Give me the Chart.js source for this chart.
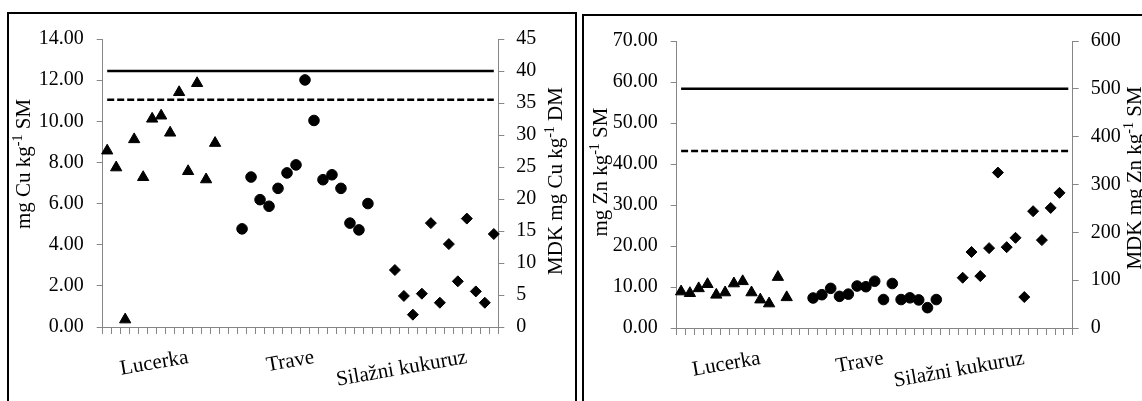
<!DOCTYPE html>
<html>
<head>
<meta charset="utf-8">
<script src="https://cdn.jsdelivr.net/npm/chart.js@4.4.0/dist/chart.umd.min.js"></script>
<style>
  html, body { margin: 0; padding: 0; background: #fff; }
  body { width: 1142px; height: 401px; position: relative; overflow: hidden; }
  .panel { position: absolute; border: 2px solid #000; background: #fff; }
  #panelCu { left: 7px; top: 12px; width: 566px; height: 400px; }
  #panelZn { left: 582px; top: 14px; width: 570px; height: 400px; }
  canvas { position: absolute; left: 0; top: 0; }
</style>
</head>
<body>
<div class="panel" id="panelCu"><canvas id="cuChart" width="566" height="387" style="width:566px;height:387px"></canvas></div>
<div class="panel" id="panelZn"><canvas id="znChart" width="558" height="385" style="width:558px;height:385px"></canvas></div>
<script>
// Kategorije (skupine uzoraka)
const groupNames = ['Lucerka', 'Trave', 'Silažni kukuruz'];
const groupStarts = [0, 15, 32];
const cuSlotCount = 44;
const znSlotCount = 45;
const cuLabelSlots = [9, 23, 40];
const znLabelSlots = [9, 23, 39];

// Cu, mg Cu kg-1 SM
const cuLucerka = [8.57, 7.75, 0.36, 9.12, 7.28, 10.12, 10.27, 9.44, 11.41, 7.57, 11.85, 7.17, 8.94];
const cuTrave = [4.77, 7.29, 6.19, 5.87, 6.74, 7.49, 7.88, 12.01, 10.04, 7.16, 7.40, 6.74, 5.05, 4.72, 6.00];
const cuKukuruz = [2.77, 1.51, 0.60, 1.62, 5.05, 1.18, 4.03, 2.22, 5.27, 1.73, 1.18, 4.52];
// MDK, mg Cu kg-1 DM (desna os)
const cuMdk = [40, 35.5];

// Zn, mg Zn kg-1 SM
const znLucerka = [8.88, 8.48, 9.66, 10.67, 8.08, 8.65, 10.84, 11.38, 8.65, 6.91, 5.96, 12.41, 7.47];
const znTrave = [7.32, 8.12, 9.67, 7.72, 8.26, 10.24, 10.07, 11.41, 6.94, 10.85, 6.94, 7.36, 6.85, 4.96, 6.94];
const znKukuruz = [12.26, 18.54, 12.66, 19.48, 37.91, 19.72, 22.00, 7.55, 28.49, 21.44, 29.29, 32.96];
// MDK, mg Zn kg-1 SM (desna os)
const znMdk = [500, 370];

// Osi: [min, max, korak]
const cuLeftAxis = [0, 14, 2];
const cuRightAxis = [0, 45, 5];
const znLeftAxis = [0, 70, 10];
const znRightAxis = [0, 600, 100];

const FONT = 'Liberation Serif';
const AXIS_GREY = '#868686';

// Slaže vrijednosti skupine na njena mjesta na osi x
function placeGroup(values, start, count) {
  const arr = new Array(count).fill(null);
  values.forEach((v, i) => { arr[start + i] = v; });
  return arr;
}

function slotLabels(count, slots) {
  const labels = new Array(count).fill('');
  slots.forEach((s, i) => { labels[s] = groupNames[i]; });
  return labels;
}

function limitLine(value, count) {
  const arr = new Array(count).fill(null);
  arr[0] = value;
  arr[count - 1] = value;
  return arr;
}

// Naslovi osi crtani ručno (zbog eksponenta i smjera teksta)
const axisTitles = {
  id: 'axisTitles',
  afterDraw(chart, args, opts) {
    const ctx = chart.ctx;
    opts.items.forEach(item => {
      ctx.save();
      ctx.translate(item.x, item.y);
      ctx.rotate(-Math.PI / 2);
      ctx.fillStyle = '#000';
      ctx.textBaseline = 'middle';
      ctx.textAlign = 'left';
      const big = '21px "' + FONT + '"';
      const small = '14px "' + FONT + '"';
      ctx.font = big;
      const w1 = ctx.measureText(item.parts[0]).width;
      const w3 = ctx.measureText(item.parts[2]).width;
      ctx.font = small;
      const w2 = ctx.measureText(item.parts[1]).width;
      let cx = -(w1 + w2 + w3) / 2;
      ctx.font = big;
      ctx.fillText(item.parts[0], cx, 0);
      cx += w1;
      ctx.font = small;
      ctx.fillText(item.parts[1], cx, -6);
      cx += w2;
      ctx.font = big;
      ctx.fillText(item.parts[2], cx, 0);
      ctx.restore();
    });
  }
};

function pointSet(data, style, radius) {
  return {
    data: data,
    showLine: false,
    pointStyle: style,
    pointRadius: radius,
    pointBackgroundColor: '#000',
    pointBorderColor: '#000',
    pointBorderWidth: 1,
    yAxisID: 'y'
  };
}

function lineSet(data, dash) {
  return {
    data: data,
    spanGaps: true,
    borderColor: '#000',
    borderWidth: 2.5,
    borderDash: dash,
    pointRadius: 0,
    yAxisID: 'y2'
  };
}

function makeChart(id, cfg) {
  const n = cfg.count;
  return new Chart(document.getElementById(id), {
    type: 'line',
    data: {
      labels: slotLabels(n, cfg.labelSlots),
      datasets: [
        lineSet(limitLine(cfg.mdk[0], n), []),
        lineSet(limitLine(cfg.mdk[1], n), [7, 3]),
        pointSet(placeGroup(cfg.series[0], groupStarts[0], n), 'triangle', 6.5),
        pointSet(placeGroup(cfg.series[1], groupStarts[1], n), 'circle', 5.3),
        pointSet(placeGroup(cfg.series[2], groupStarts[2], n), 'rectRot', 5.5)
      ]
    },
    options: {
      responsive: false,
      animation: false,
      events: [],
      layout: { padding: { top: cfg.top, left: 0, right: 0, bottom: 0 } },
      plugins: {
        legend: { display: false },
        tooltip: { enabled: false },
        axisTitles: { items: cfg.titles }
      },
      scales: {
        x: {
          type: 'category',
          offset: true,
          grid: { offset: true, drawOnChartArea: false, tickLength: 7, color: AXIS_GREY },
          border: { color: AXIS_GREY, width: 1 },
          ticks: {
            autoSkip: false, minRotation: 10, maxRotation: 10, padding: 11,
            color: '#000', font: { family: FONT, size: 21 }
          },
          afterFit: s => { s.height = cfg.xHeight; }
        },
        y: {
          position: 'left',
          min: cfg.left[0], max: cfg.left[1],
          grid: { drawOnChartArea: false, tickLength: 6, color: AXIS_GREY },
          border: { color: AXIS_GREY, width: 1 },
          ticks: {
            stepSize: cfg.left[2], padding: 13, color: '#000',
            font: { family: FONT, size: 20 },
            callback: v => v.toFixed(2)
          },
          afterFit: s => { s.width = cfg.leftWidth; }
        },
        y2: {
          position: 'right',
          min: cfg.right[0], max: cfg.right[1],
          grid: { drawOnChartArea: false, tickLength: 6, color: AXIS_GREY },
          border: { color: AXIS_GREY, width: 1 },
          ticks: {
            stepSize: cfg.right[2], padding: 12, color: '#000',
            font: { family: FONT, size: 20 }
          },
          afterFit: s => { s.width = cfg.rightWidth; }
        }
      }
    },
    plugins: [axisTitles]
  });
}

makeChart('cuChart', {
  count: cuSlotCount,
  labelSlots: cuLabelSlots,
  series: [cuLucerka, cuTrave, cuKukuruz],
  mdk: cuMdk,
  left: cuLeftAxis,
  right: cuRightAxis,
  top: 16.5,
  xHeight: 74,
  leftWidth: 93.7,
  rightWidth: 76.7,
  titles: [
    { x: 15, y: 150, parts: ['mg Cu kg', '-1', ' SM'] },
    { x: 547, y: 167, parts: ['MDK mg Cu kg', '-1', ' DM'] }
  ]
});

makeChart('znChart', {
  count: znSlotCount,
  labelSlots: znLabelSlots,
  series: [znLucerka, znTrave, znKukuruz],
  mdk: znMdk,
  left: znLeftAxis,
  right: znRightAxis,
  top: 14,
  xHeight: 73,
  leftWidth: 92.7,
  rightWidth: 69.3,
  titles: [
    { x: 17, y: 156, parts: ['mg Zn kg', '-1', ' SM'] },
    { x: 551, y: 162, parts: ['MDK mg Zn kg', '-1', ' SM'] }
  ]
});
</script>
</body>
</html>
